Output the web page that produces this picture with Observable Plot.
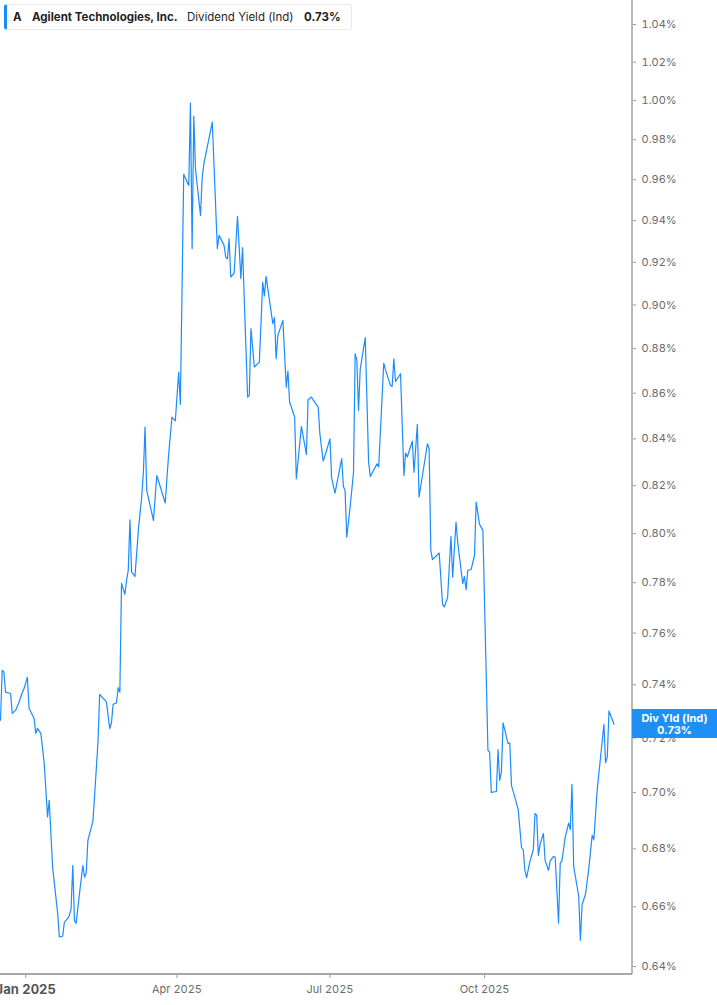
<!DOCTYPE html>
<html>
<head>
<meta charset="utf-8">
<script src="https://cdn.jsdelivr.net/npm/d3@7"></script>
<script src="https://cdn.jsdelivr.net/npm/@observablehq/plot@0.6"></script>
<style>
  html, body { margin: 0; padding: 0; background: #fff; }
  #wrap { position: relative; width: 717px; height: 1005px; overflow: hidden; font-family: Inter, "Noto Sans", sans-serif; }
  #legend { position: absolute; left: 4px; top: 4px; width: 348px; height: 26px; box-sizing: border-box;
            border: 1px solid #e8e8e8; border-left: 3px solid #1a8cff; border-radius: 3px; background: #fff; }
  .lg { position: absolute; top: 10px; font-size: 11.5px; line-height: 14px; color: #1f1f1f; white-space: nowrap; }
  .b { font-weight: 700; }
  #lastLabel { position: absolute; left: 632px; width: 85px; height: 29px; background: #1e8ff5; color: #fff;
               font-weight: 700; font-size: 11px; line-height: 12px; text-align: center; box-sizing: border-box; padding-top: 3px; }
</style>
</head>
<body>
<div id="wrap">
  <div id="chart"></div>
  <div id="legend"></div>
  <span class="lg b" style="left:13px">A</span>
  <span class="lg b" style="left:32px">Agilent Technologies, Inc.</span>
  <span class="lg" style="left:187px">Dividend Yield (Ind)</span>
  <span class="lg b" style="left:304px">0.73%</span>
  <div id="lastLabel">Div Yld (Ind)<br>0.73%</div>
</div>
<script>
const dates = [
"2024-12-17","2024-12-18","2024-12-19","2024-12-20","2024-12-23","2024-12-24","2024-12-26","2024-12-28","2024-12-30","2024-12-31",
"2025-01-02","2025-01-03","2025-01-06","2025-01-07","2025-01-08","2025-01-10","2025-01-12","2025-01-14","2025-01-15","2025-01-17",
"2025-01-20","2025-01-21","2025-01-23","2025-01-24","2025-01-26","2025-01-27","2025-01-28","2025-01-29","2025-01-30","2025-01-31",
"2025-02-02","2025-02-04","2025-02-05","2025-02-06","2025-02-07","2025-02-10","2025-02-13","2025-02-14","2025-02-18","2025-02-20",
"2025-02-21","2025-02-22","2025-02-24","2025-02-25","2025-02-26","2025-02-27","2025-03-01","2025-03-02","2025-03-03","2025-03-04",
"2025-03-05","2025-03-07","2025-03-09","2025-03-11","2025-03-12","2025-03-13","2025-03-14","2025-03-18","2025-03-20","2025-03-25",
"2025-03-26","2025-03-27","2025-03-29","2025-03-31","2025-04-02","2025-04-03","2025-04-05","2025-04-08","2025-04-09","2025-04-10",
"2025-04-11","2025-04-12","2025-04-15","2025-04-16","2025-04-17","2025-04-22","2025-04-25","2025-04-26","2025-04-29","2025-04-30",
"2025-05-01","2025-05-02","2025-05-03","2025-05-05","2025-05-07","2025-05-09","2025-05-10","2025-05-13","2025-05-14","2025-05-15",
"2025-05-17","2025-05-20","2025-05-22","2025-05-23","2025-05-24","2025-05-28","2025-05-29","2025-05-30","2025-05-31","2025-06-03",
"2025-06-05","2025-06-06","2025-06-07","2025-06-10","2025-06-11","2025-06-14","2025-06-17","2025-06-18","2025-06-20","2025-06-21",
"2025-06-24","2025-06-25","2025-06-27","2025-06-29","2025-07-01","2025-07-02","2025-07-04","2025-07-08","2025-07-09","2025-07-10",
"2025-07-11","2025-07-13","2025-07-15","2025-07-16","2025-07-17","2025-07-18","2025-07-19","2025-07-22","2025-07-24","2025-07-25",
"2025-07-29","2025-07-30","2025-08-02","2025-08-03","2025-08-06","2025-08-07","2025-08-08","2025-08-09","2025-08-12","2025-08-14",
"2025-08-15","2025-08-16","2025-08-19","2025-08-20","2025-08-22","2025-08-23","2025-08-28","2025-08-29","2025-08-30","2025-08-31",
"2025-09-04","2025-09-06","2025-09-07","2025-09-09","2025-09-11","2025-09-12","2025-09-14","2025-09-15","2025-09-18","2025-09-19",
"2025-09-20","2025-09-21","2025-09-23","2025-09-25","2025-09-26","2025-09-28","2025-09-30","2025-10-03","2025-10-04","2025-10-05",
"2025-10-08","2025-10-09","2025-10-10","2025-10-11","2025-10-12","2025-10-15","2025-10-16","2025-10-17","2025-10-19","2025-10-21",
"2025-10-23","2025-10-24","2025-10-25","2025-10-26","2025-10-28","2025-10-30","2025-10-31","2025-11-01","2025-11-02","2025-11-03",
"2025-11-05","2025-11-06","2025-11-08","2025-11-09","2025-11-11","2025-11-12","2025-11-14","2025-11-15","2025-11-16","2025-11-18",
"2025-11-20","2025-11-21","2025-11-22","2025-11-23","2025-11-26","2025-11-27","2025-11-28","2025-11-30","2025-12-02","2025-12-04",
"2025-12-05","2025-12-07","2025-12-11","2025-12-12","2025-12-13","2025-12-14","2025-12-17"
];
const values = [
0.7266,0.7455,0.7449,0.7372,0.7367,0.7292,0.7303,0.7334,0.7371,0.7386,
0.7429,0.7311,0.7273,0.7217,0.7236,0.7217,0.7107,0.6913,0.6972,0.6737,
0.6578,0.6498,0.6501,0.6548,0.6561,0.6571,0.6594,0.6742,0.6554,0.6544,
0.6646,0.6742,0.6702,0.6716,0.6830,0.6898,0.7184,0.7364,0.7335,0.7235,
0.7255,0.7326,0.7331,0.7389,0.7372,0.7797,0.7753,0.7809,0.7850,0.8057,
0.7843,0.7825,0.8013,0.8152,0.8257,0.8451,0.8180,0.8054,0.8243,0.8127,
0.8230,0.8329,0.8495,0.8478,0.8694,0.8551,0.9627,0.9572,0.9987,0.9265,
0.9919,0.9655,0.9425,0.9613,0.9680,0.9890,0.9265,0.9329,0.9281,0.9225,
0.9217,0.9313,0.9130,0.9149,0.9421,0.9123,0.9270,0.8583,0.8590,0.8891,
0.8717,0.8739,0.9106,0.9042,0.9134,0.8914,0.8942,0.8754,0.8860,0.8929,
0.8627,0.8699,0.8561,0.8495,0.8229,0.8454,0.8333,0.8571,0.8583,0.8571,
0.8539,0.8422,0.8304,0.8350,0.8400,0.8233,0.8168,0.8315,0.8196,0.8180,
0.7985,0.8110,0.8254,0.8777,0.8748,0.8524,0.8706,0.8850,0.8300,0.8239,
0.8293,0.8279,0.8734,0.8705,0.8635,0.8630,0.8754,0.8652,0.8687,0.8243,
0.8339,0.8322,0.8390,0.8257,0.8463,0.8152,0.8379,0.8358,0.7931,0.7893,
0.7920,0.7714,0.7703,0.7740,0.7988,0.7822,0.8047,0.7965,0.7796,0.7825,
0.7772,0.7850,0.7853,0.7911,0.8131,0.8038,0.8013,0.7154,0.7148,0.7001,
0.7004,0.7157,0.7044,0.7075,0.7256,0.7179,0.7181,0.7026,0.6984,0.6939,
0.6804,0.6797,0.6725,0.6700,0.6757,0.6797,0.6925,0.6919,0.6777,0.6816,
0.6854,0.6760,0.6725,0.6757,0.6774,0.6771,0.6545,0.6750,0.6757,0.6842,
0.6891,0.6868,0.7030,0.6739,0.6636,0.6487,0.6608,0.6642,0.6731,0.6848,
0.6832,0.7010,0.7251,0.7108,0.7130,0.7301,0.7251
];
const yTicks = [0.64,0.66,0.68,0.70,0.72,0.74,0.76,0.78,0.80,0.82,0.84,0.86,0.88,0.90,0.92,0.94,0.96,0.98,1.00,1.02,1.04];
const yDomain = [0.64, 1.04];
const xDomain = ["2024-12-17", "2025-12-28"];
const xTickMain = ["2025-01-01"];
const xTickMainLabels = ["Jan 2025"];
const xTicksOther = ["2025-04-01", "2025-07-01", "2025-10-01"];
const xTickOtherLabels = ["Apr 2025", "Jul 2025", "Oct 2025"];
const lastLabelValue = values[values.length - 1];

const data = dates.map((d, i) => ({date: new Date(d), value: values[i]}));
const labelOf = (ticks, labels) => d => labels[ticks.findIndex(t => +new Date(t) === +d)];

const W = 717, H = 1005, mR = 85, mB = 31;
const chart = Plot.plot({
  width: W, height: H,
  marginLeft: 0, marginRight: mR, marginTop: 0, marginBottom: mB,
  insetTop: 24, insetBottom: 8,
  style: {fontFamily: "Inter, 'Noto Sans', sans-serif", background: "transparent", overflow: "visible"},
  x: {type: "utc", domain: xDomain.map(d => new Date(d))},
  y: {type: "log", domain: yDomain},
  marks: [
    Plot.axisY(yTicks, {anchor: "right", tickSize: 3, tickPadding: 6, label: null,
      tickFormat: d => d.toFixed(2) + "%", fontSize: 11, fill: "#6b6b6b", stroke: "#9a9a9a"}),
    Plot.axisX(xTickMain.map(d => new Date(d)), {tickSize: 4, tickPadding: 6, label: null,
      tickFormat: labelOf(xTickMain, xTickMainLabels), fontSize: 13, fontWeight: "bold", fill: "#555", stroke: "#9a9a9a"}),
    Plot.axisX(xTicksOther.map(d => new Date(d)), {tickSize: 4, tickPadding: 7, label: null,
      tickFormat: labelOf(xTicksOther, xTickOtherLabels), fontSize: 11, fill: "#6b6b6b", stroke: "#9a9a9a"}),
    Plot.lineY(data, {x: "date", y: "value", stroke: "#1a8cff", strokeWidth: 1.2})
  ]
});
document.getElementById("chart").appendChild(chart);

// axis domain lines (right and bottom edges of the plot frame)
const svg = d3.select(chart);
const xr = chart.scale("x").range;
const right = xr[1], bottom = H - mB;
svg.append("line").attr("x1", 0).attr("x2", right).attr("y1", bottom).attr("y2", bottom)
  .attr("stroke", "#a8a8a8").attr("stroke-width", 2);
svg.append("line").attr("x1", right).attr("x2", right).attr("y1", 0).attr("y2", bottom)
  .attr("stroke", "#a0a0a0").attr("stroke-width", 1.5);

// last-value label on the right axis
const yLast = chart.scale("y").apply(lastLabelValue);
document.getElementById("lastLabel").style.top = (yLast - 14.5) + "px";
</script>
</body>
</html>
